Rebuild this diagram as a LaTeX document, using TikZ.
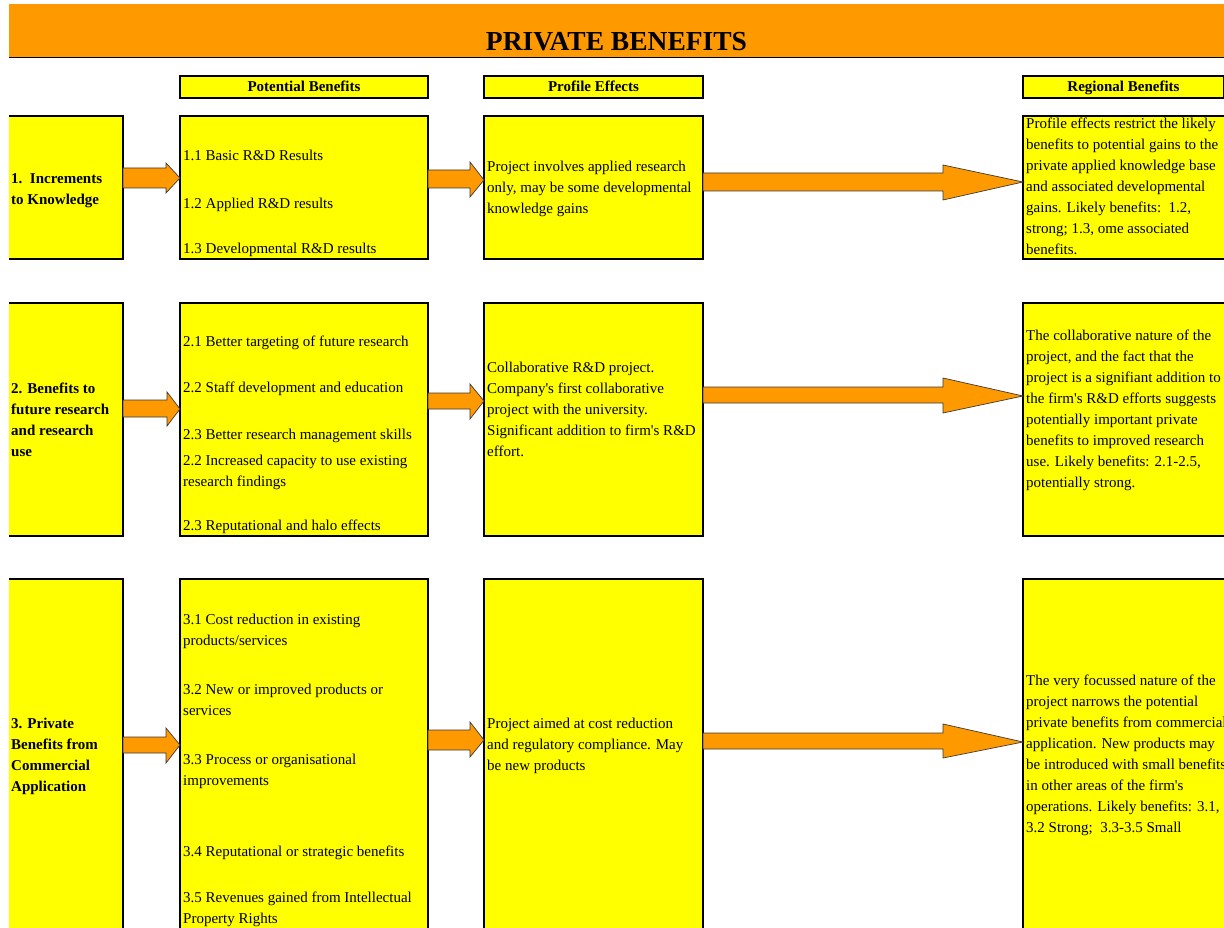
\documentclass[tikz,border=0pt]{standalone}
\usepackage{fontspec}
\setmainfont{Liberation Serif}[Ligatures=TeXOff]
\usetikzlibrary{calc}
\definecolor{ybox}{HTML}{FFFF00}
\definecolor{orng}{HTML}{FF9900}
\definecolor{edge}{HTML}{3A3A3A}
\newcommand\bodyfont{\fontsize{15}{21}\selectfont}
% #1 source node, #2 target node, #3/#4 shaft top/bottom, #5/#6 head top/bottom, #7 tip y, #8 head length
\newcommand\blockarrow[8]{%
  \draw[arr] (#1.east |- 0,#3) -- ($(#2.west |- 0,#3)+(-#8,0)$) -- ($(#2.west |- 0,#5)+(-#8,0)$)
    -- (#2.west |- 0,#7) -- ($(#2.west |- 0,#6)+(-#8,0)$) -- ($(#2.west |- 0,#4)+(-#8,0)$)
    -- (#1.east |- 0,#4) -- cycle;}
\tikzset{
  box/.style={draw=black, line width=1.4pt, fill=ybox, inner sep=0pt, outer sep=0pt, anchor=north west},
  hdr/.style={box, font=\bfseries\fontsize{15}{17}\selectfont, text height=12pt, text depth=2pt},
  txt/.style={anchor=north west, inner sep=0pt, align=left, font=\bodyfont},
  btxt/.style={anchor=north west, inner sep=0pt, align=left, font=\bodyfont\bfseries},
  arr/.style={fill=orng, draw=edge, line width=0.7pt, line join=miter},
}
\begin{document}
\begin{tikzpicture}[x=1pt,y=-1pt]
\useasboundingbox[fill=white] (0,0) rectangle (1224,928);
\clip (9,0) rectangle (1224,928);
% title bar
\node[fill=orng, anchor=north west, minimum width=1221pt, minimum height=53pt, inner sep=0pt] (bar) at (9,4) {};
\draw[black, line width=1.4pt] (bar.south west) -- (bar.south east);
\node[font=\bfseries\fontsize{27.5}{30}\selectfont, anchor=base, inner sep=0pt] (title) at (616.5,51) {PRIVATE BENEFITS};
% headers
\node[hdr, minimum width=248pt, minimum height=22pt] (hP) at (180,76) {Potential Benefits};
\node[hdr, minimum width=219pt, minimum height=22pt] (hF) at (484,76) {Profile Effects};
\node[hdr, minimum width=201pt, minimum height=22pt] (hR) at (1023,76) {Regional Benefits};
% row 1 boxes
\node[box, minimum width=115pt, minimum height=143pt] (L1) at (8,116) {};
\node[box, minimum width=248pt, minimum height=143pt] (P1) at (180,116) {};
\node[box, minimum width=219pt, minimum height=143pt] (F1) at (484,116) {};
\node[box, minimum width=207pt, minimum height=143pt] (R1) at (1023,116) {};
% row 2 boxes
\node[box, minimum width=115pt, minimum height=233pt] (L2) at (8,303) {};
\node[box, minimum width=248pt, minimum height=233pt] (P2) at (180,303) {};
\node[box, minimum width=219pt, minimum height=233pt] (F2) at (484,303) {};
\node[box, minimum width=207pt, minimum height=233pt] (R2) at (1023,303) {};
% row 3 boxes
\node[box, minimum width=115pt, minimum height=361pt] (L3) at (8,579) {};
\node[box, minimum width=248pt, minimum height=361pt] (P3) at (180,579) {};
\node[box, minimum width=219pt, minimum height=361pt] (F3) at (484,579) {};
\node[box, minimum width=207pt, minimum height=361pt] (R3) at (1023,579) {};
% arrows
\blockarrow{L1}{P1}{168}{188}{163}{193}{178}{14}
\blockarrow{P1}{F1}{170}{188}{162}{197}{180}{14}
\blockarrow{F1}{R1}{173}{191}{165}{200}{182}{80}
\blockarrow{L2}{P2}{400}{417}{392}{426}{409}{13}
\blockarrow{P2}{F2}{393}{409}{384}{419}{401}{14}
\blockarrow{F2}{R2}{387}{403}{378}{413}{396}{80}
\blockarrow{L3}{P3}{737}{753}{728}{763}{745}{14}
\blockarrow{P3}{F3}{730}{750}{722}{757}{740}{14}
\blockarrow{F3}{R3}{733}{749}{724}{758}{742}{80}
% row 1 texts
\node[btxt] (L1t) at (11,168.3) {\strut 1.\ \ Increments\\to Knowledge};
\node[txt] (p11) at (183,145.3) {\strut 1.1 Basic R\&D Results};
\node[txt] (p12) at (183,193.3) {\strut 1.2 Applied R\&D results};
\node[txt] (p13) at (183,238.3) {\strut 1.3 Developmental R\&D results};
\node[txt] (F1t) at (487,156.3) {\strut Project involves applied research\\only, may be some developmental\\knowledge gains};
\node[txt] (R1t) at (1026,113.3) {\strut Profile effects restrict the likely\\benefits to potential gains to the\\private applied knowledge base\\and associated developmental\\gains. Likely benefits:\ \ 1.2,\\strong; 1.3, ome associated\\benefits.};
% row 2 texts
\node[btxt] (L2t) at (11,378.3) {\strut 2. Benefits to\\future research\\and research\\use};
\node[txt] (p21) at (183,331.3) {\strut 2.1 Better targeting of future research};
\node[txt] (p22) at (183,377.3) {\strut 2.2 Staff development and education};
\node[txt] (p23) at (183,424.3) {\strut 2.3 Better research management skills};
\node[txt] (p24) at (183,450.3) {\strut 2.2 Increased capacity to use existing\\research findings};
\node[txt] (p25) at (183,515.3) {\strut 2.3 Reputational and halo effects};
\node[txt] (F2t) at (487,357.3) {\strut Collaborative R\&D project.\\Company's first collaborative\\project with the university.\\Significant addition to firm's R\&D\\effort.};
\node[txt] (R2t) at (1026,325.3) {\strut The collaborative nature of the\\project, and the fact that the\\project is a signifiant addition to\\the firm's R\&D efforts suggests\\potentially important private\\benefits to improved research\\use. Likely benefits: 2.1-2.5,\\potentially strong.};
% row 3 texts
\node[btxt] (L3t) at (11,713.3) {\strut 3. Private\\Benefits from\\Commercial\\Application};
\node[txt] (p31) at (183,609.3) {\strut 3.1 Cost reduction in existing\\products/services};
\node[txt] (p32) at (183,679.3) {\strut 3.2 New or improved products or\\services};
\node[txt] (p33) at (183,749.3) {\strut 3.3 Process or organisational\\improvements};
\node[txt] (p34) at (183,841.3) {\strut 3.4 Reputational or strategic benefits};
\node[txt] (p35) at (183,887.3) {\strut 3.5 Revenues gained from Intellectual\\Property Rights};
\node[txt] (F3t) at (487,713.3) {\strut Project aimed at cost reduction\\and regulatory compliance. May\\be new products};
\node[txt] (R3t) at (1026,670.3) {\strut The very focussed nature of the\\project narrows the potential\\private benefits from commercial\\application. New products may\\be introduced with small benefits\\in other areas of the firm's\\operations. Likely benefits: 3.1,\\3.2 Strong;\ \ 3.3-3.5 Small};
\end{tikzpicture}
\end{document}
